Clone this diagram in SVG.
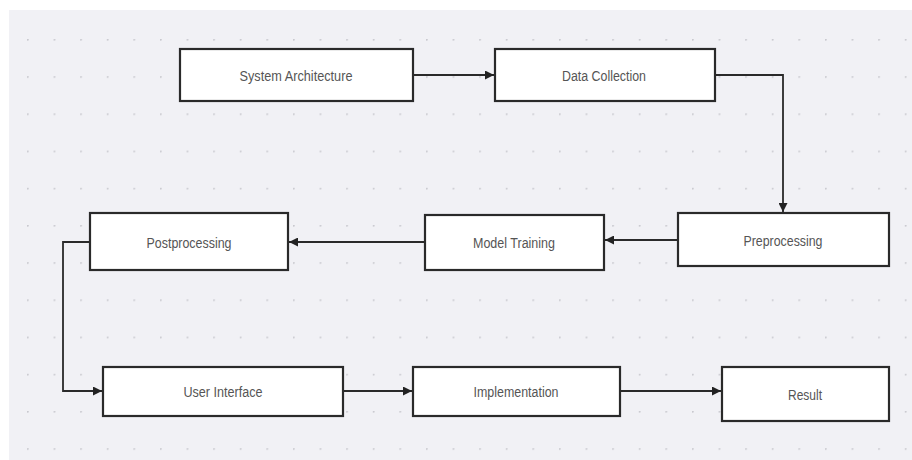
<svg xmlns="http://www.w3.org/2000/svg" width="912" height="460" viewBox="0 0 912 460">
  <defs>
    <pattern id="dots" x="27" y="39" width="26.6" height="37.2" patternUnits="userSpaceOnUse">
      <circle cx="0.8" cy="0.8" r="1" fill="#c9c9cf"/>
    </pattern>
    <marker id="arrow" viewBox="0 0 10 10" refX="10" refY="5" markerWidth="9" markerHeight="9" markerUnits="userSpaceOnUse" orient="auto">
      <path d="M0,0 L10,5 L0,10 z" fill="#222"/>
    </marker>
    <style>
      .box { fill: #ffffff; stroke: #2a2a2a; stroke-width: 2.2; }
      .lbl { font-family: "Liberation Sans", Arial, sans-serif; font-size: 14px; fill: #555555; text-anchor: middle; dominant-baseline: central; }
      .edge { fill: none; stroke: #2a2a2a; stroke-width: 1.8; marker-end: url(#arrow); }
    </style>
  </defs>
  <rect x="0" y="0" width="912" height="460" fill="#ffffff"/>
  <rect x="9" y="10" width="903" height="450" fill="#f1f1f5"/>
  <rect x="9" y="10" width="903" height="450" fill="url(#dots)"/>

  <g id="connectors">
    <path class="edge" d="M413,75 H494"/>
    <path class="edge" d="M715,75 H783 V212"/>
    <path class="edge" d="M678,240 H605"/>
    <path class="edge" d="M425,242 H289"/>
    <path class="edge" d="M90,242 H63 V391 H102"/>
    <path class="edge" d="M343,391 H412"/>
    <path class="edge" d="M620,391 H721"/>
  </g>

  <g id="system-architecture">
    <rect class="box" x="180" y="49" width="233" height="52"/>
    <text class="lbl" x="296" y="76" textLength="113" lengthAdjust="spacingAndGlyphs">System Architecture</text>
  </g>
  <g id="data-collection">
    <rect class="box" x="495" y="49" width="220" height="52"/>
    <text class="lbl" x="604" y="76" textLength="84" lengthAdjust="spacingAndGlyphs">Data Collection</text>
  </g>
  <g id="preprocessing">
    <rect class="box" x="678" y="213" width="211" height="53"/>
    <text class="lbl" x="783" y="241" textLength="79" lengthAdjust="spacingAndGlyphs">Preprocessing</text>
  </g>
  <g id="model-training">
    <rect class="box" x="425" y="215" width="179" height="55"/>
    <text class="lbl" x="514" y="243" textLength="82" lengthAdjust="spacingAndGlyphs">Model Training</text>
  </g>
  <g id="postprocessing">
    <rect class="box" x="90" y="213" width="198" height="57"/>
    <text class="lbl" x="189" y="243" textLength="85" lengthAdjust="spacingAndGlyphs">Postprocessing</text>
  </g>
  <g id="user-interface">
    <rect class="box" x="103" y="367" width="240" height="49"/>
    <text class="lbl" x="223" y="392" textLength="79" lengthAdjust="spacingAndGlyphs">User Interface</text>
  </g>
  <g id="implementation">
    <rect class="box" x="413" y="367" width="207" height="49"/>
    <text class="lbl" x="516" y="392" textLength="85" lengthAdjust="spacingAndGlyphs">Implementation</text>
  </g>
  <g id="result">
    <rect class="box" x="722" y="367" width="167" height="54"/>
    <text class="lbl" x="805" y="395" textLength="34" lengthAdjust="spacingAndGlyphs">Result</text>
  </g>
</svg>
